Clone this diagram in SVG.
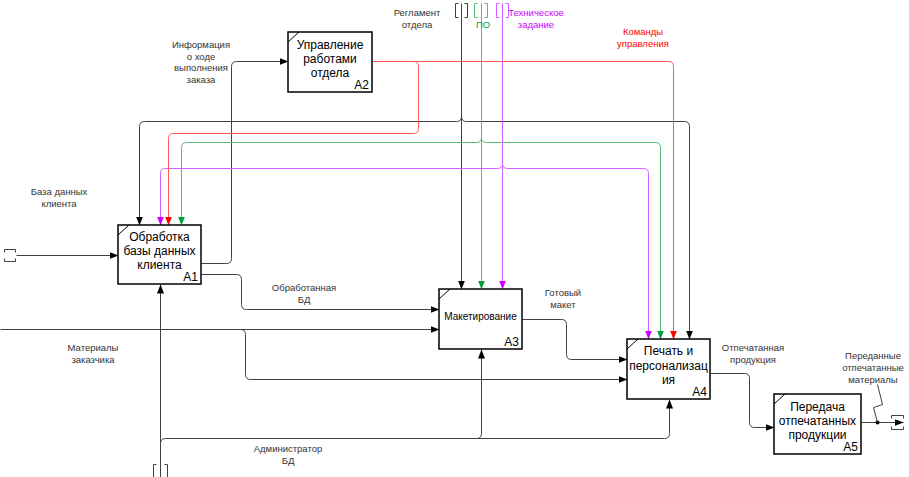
<svg xmlns="http://www.w3.org/2000/svg" width="909" height="477" viewBox="0 0 909 477">
<defs>
<marker id="ak" markerUnits="userSpaceOnUse" markerWidth="10" markerHeight="8" refX="9" refY="3.5" orient="auto"><path d="M0,0 L9,3.5 L0,7 z" fill="#000"/></marker>
<marker id="ar" markerUnits="userSpaceOnUse" markerWidth="10" markerHeight="8" refX="9" refY="3.5" orient="auto"><path d="M0,0 L9,3.5 L0,7 z" fill="#ff0000"/></marker>
<marker id="ag" markerUnits="userSpaceOnUse" markerWidth="10" markerHeight="8" refX="9" refY="3.5" orient="auto"><path d="M0,0 L9,3.5 L0,7 z" fill="#00a040"/></marker>
<marker id="ap" markerUnits="userSpaceOnUse" markerWidth="10" markerHeight="8" refX="9" refY="3.5" orient="auto"><path d="M0,0 L9,3.5 L0,7 z" fill="#cc00ff"/></marker>
</defs>
<style>
.box{fill:#fff;stroke:#000;stroke-width:1.5}
.diag{stroke:#000;stroke-width:1;fill:none}
.bt{font-family:"Liberation Sans",Arial,sans-serif;font-size:12px;fill:#000;text-anchor:middle}
.bn{font-family:"Liberation Sans",Arial,sans-serif;font-size:12px;fill:#000;text-anchor:end}
.lb{font-family:"Liberation Sans",Arial,sans-serif;font-size:9.5px;fill:#333;text-anchor:middle}
.k{stroke:#404040;stroke-width:1;fill:none}
.r{stroke:#ff5a5a;stroke-width:1;fill:none}
.g{stroke:#55bb77;stroke-width:1;fill:none}
.p{stroke:#d060ff;stroke-width:1;fill:none}
</style>
<rect width="909" height="477" fill="#fff"/>
<g id="connectors" transform="translate(0.5,0.5)">
<!-- input tunnel left -->
<path class="k" d="M4,252 V249 H15 V252 M4,258 V261 H15 V258"/>
<path class="k" d="M16,255 H118" marker-end="url(#ak)"/>
<!-- A1 to A2 -->
<path class="k" d="M201,263 H226 Q231,263 231,258 V66 Q231,61 236,61 H288" marker-end="url(#ak)"/>
<!-- A1 to A3 -->
<path class="k" d="M201,274 H236 Q241,274 241,279 V304 Q241,309 246,309 H439" marker-end="url(#ak)"/>
<!-- materials -->
<path class="k" d="M0,329 H439" marker-end="url(#ak)"/>
<path class="k" d="M240,329 Q245,329 245,334 V374 Q245,379 250,379 H627" marker-end="url(#ak)"/>
<!-- A3 to A4 -->
<path class="k" d="M522,319 H561 Q566,319 566,324 V354 Q566,359 571,359 H627" marker-end="url(#ak)"/>
<!-- A4 to A5 -->
<path class="k" d="M710,373 H744 Q749,373 749,378 V422 Q749,427 754,427 H774" marker-end="url(#ak)"/>
<!-- A5 out -->
<path class="k" d="M861,422 H903" marker-end="url(#ak)"/>
<path class="k" d="M891,418 V415 H903 V418 M891,426 V429 H903 V426"/>
<circle cx="877" cy="422" r="2" fill="#000"/>
<path class="k" d="M877,422 L873,407 L882,404 L877,384"/>
<!-- regulation (black control) -->
<path class="k" d="M458,3 H455 V17 H458 M464,3 H467 V17 H464"/>
<path class="k" d="M461,3 V289" marker-end="url(#ak)"/>
<path class="k" d="M461,116 Q461,121 456,121 H144 Q139,121 139,126 V225" marker-end="url(#ak)"/>
<path class="k" d="M461,116 Q461,121 466,121 H684 Q689,121 689,126 V339" marker-end="url(#ak)"/>
<!-- PO (green) -->
<path class="g" d="M477,3 H474 V17 H477 M484,3 H487 V17 H484"/>
<path class="g" d="M481,3 V289" marker-end="url(#ag)"/>
<path class="g" d="M481,137 Q481,142 476,142 H186 Q181,142 181,147 V225" marker-end="url(#ag)"/>
<path class="g" d="M481,137 Q481,142 486,142 H655 Q660,142 660,147 V339" marker-end="url(#ag)"/>
<!-- tech spec (purple) -->
<path class="p" d="M499,3 H496 V17 H499 M505,3 H508 V17 H505"/>
<path class="p" d="M502,3 V289" marker-end="url(#ap)"/>
<path class="p" d="M502,163 Q502,168 497,168 H165 Q160,168 160,173 V225" marker-end="url(#ap)"/>
<path class="p" d="M502,163 Q502,168 507,168 H643 Q648,168 648,173 V339" marker-end="url(#ap)"/>
<!-- commands (red) -->
<path class="r" d="M372,61 H668 Q673,61 673,66 V339" marker-end="url(#ar)"/>
<path class="r" d="M413,61 Q418,61 418,66 V128 Q418,133 413,133 H173 Q168,133 168,138 V225" marker-end="url(#ar)"/>
<!-- admin -->
<path class="k" d="M156,464 H153 V477 H156 M164,464 H167 V477 H164"/>
<path class="k" d="M160,477 V284" marker-end="url(#ak)"/>
<path class="k" d="M160,443 Q160,438 165,438 H664 Q669,438 669,433 V399" marker-end="url(#ak)"/>
<path class="k" d="M476,438 Q481,438 481,433 V349" marker-end="url(#ak)"/>
</g>
<g id="labels">
<text class="lb" x="201" y="48">Информация</text>
<text class="lb" x="201" y="60">о ходе</text>
<text class="lb" x="201" y="71">выполнения</text>
<text class="lb" x="201" y="83">заказа</text>
<text class="lb" x="59" y="195">База данных</text>
<text class="lb" x="59" y="207">клиента</text>
<text class="lb" x="304" y="291">Обработанная</text>
<text class="lb" x="304" y="303">БД</text>
<text class="lb" x="93" y="351">Материалы</text>
<text class="lb" x="93" y="363">заказчика</text>
<text class="lb" x="563" y="296">Готовый</text>
<text class="lb" x="563" y="308">макет</text>
<text class="lb" x="753" y="351">Отпечатанная</text>
<text class="lb" x="753" y="363">продукция</text>
<text class="lb" x="873" y="359">Переданные</text>
<text class="lb" x="873" y="371">отпечатанные</text>
<text class="lb" x="873" y="383">материалы</text>
<text class="lb" x="288" y="452">Администратор</text>
<text class="lb" x="288" y="464">БД</text>
<text class="lb" x="417" y="16">Регламент</text>
<text class="lb" x="417" y="28">отдела</text>
<text class="lb" x="483" y="28" style="fill:#00a040">ПО</text>
<text class="lb" x="536" y="16" style="fill:#cc00ff">Техническое</text>
<text class="lb" x="536" y="28" style="fill:#cc00ff">задание</text>
<text class="lb" x="643" y="35" style="fill:#ff0000">Команды</text>
<text class="lb" x="643" y="47" style="fill:#ff0000">управления</text>
</g>
<g id="A1">
<rect class="box" x="118" y="225" width="83" height="59"/>
<path class="diag" d="M118,235 L129,225"/>
<text class="bt" x="159.5" y="241">Обработка</text>
<text class="bt" x="159.5" y="255">базы данных</text>
<text class="bt" x="159.5" y="269">клиента</text>
<text class="bn" x="198" y="281">A1</text>
</g>
<g id="A2">
<rect class="box" x="288" y="32" width="84" height="60"/>
<path class="diag" d="M288,42 L299,32"/>
<text class="bt" x="330" y="49">Управление</text>
<text class="bt" x="330" y="63">работами</text>
<text class="bt" x="330" y="77">отдела</text>
<text class="bn" x="369" y="89">A2</text>
</g>
<g id="A3">
<rect class="box" x="439" y="289" width="83" height="60"/>
<path class="diag" d="M439,299 L450,289"/>
<text class="bt" x="480.5" y="320" style="font-size:10px">Макетирование</text>
<text class="bn" x="519" y="346">A3</text>
</g>
<g id="A4">
<rect class="box" x="627" y="339" width="83" height="60"/>
<path class="diag" d="M627,349 L638,339"/>
<text class="bt" x="668.5" y="355">Печать и</text>
<text class="bt" x="668.5" y="370">персонализац</text>
<text class="bt" x="668.5" y="384">ия</text>
<text class="bn" x="707" y="396">A4</text>
</g>
<g id="A5">
<rect class="box" x="774" y="394" width="87" height="60"/>
<path class="diag" d="M774,404 L785,394"/>
<text class="bt" x="817.5" y="411">Передача</text>
<text class="bt" x="817.5" y="425">отпечатанных</text>
<text class="bt" x="817.5" y="439">продукции</text>
<text class="bn" x="858" y="451">A5</text>
</g>
</svg>
